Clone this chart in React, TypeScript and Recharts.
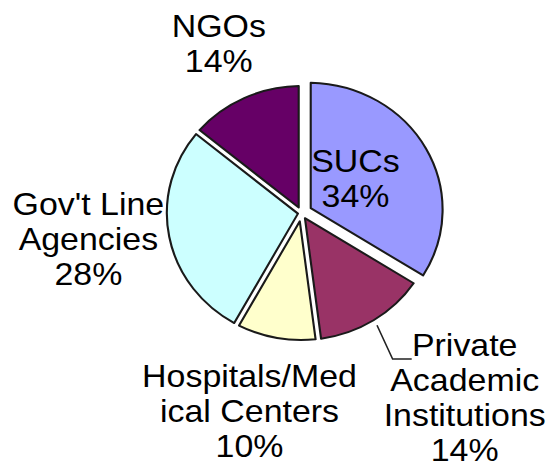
import React from "react"
import { PieChart, Pie, Cell } from "recharts"

const categories = ["SUCs", "Private Academic Institutions", "Hospitals/Medical Centers", "Gov't Line Agencies", "NGOs"]
const shares = [34, 14, 10, 28, 14]
const colors = ["#9999ff", "#993366", "#ffffcc", "#ccffff", "#660066"]
// how the category names are wrapped in the picture
const labelLines = [
  ["SUCs"],
  ["Private", "Academic", "Institutions"],
  ["Hospitals/Med", "ical Centers"],
  ["Gov't Line", "Agencies"],
  ["NGOs"],
]
const explode = [7, 0, 0, 0, 0]

// label anchors relative to the pie centre (first baseline)
const LABEL_OFFSETS = [
  { dx: 51, dy: -41 },
  { dx: 154, dy: 143 },
  { dx: -49, dy: 174 },
  { dx: -201, dy: 2 },
  { dx: -78, dy: -176 },
]
const LINE_H = 35
const GAP = 2.6 // half of the white gap between slices
const RAD = Math.PI / 180

const data = categories.map((name, i) => ({ name, value: shares[i] }))

const polar = (cx: number, cy: number, r: number, a: number) => [
  cx + r * Math.cos(-a * RAD),
  cy + r * Math.sin(-a * RAD),
]

// sector with its straight edges pulled in, so a white gap shows between slices
function GapSector(props: any) {
  const { cx, cy, midAngle, index, startAngle, endAngle, outerRadius, fill, stroke, strokeWidth } = props
  const d = explode[index] ?? 0
  const ox = cx + d * Math.cos(-midAngle * RAD)
  const oy = cy + d * Math.sin(-midAngle * RAD)
  const lo = Math.min(startAngle, endAngle)
  const hi = Math.max(startAngle, endAngle)
  const delta = Math.asin(GAP / outerRadius) / RAD
  const half = ((hi - lo) / 2) * RAD
  const vd = GAP / Math.sin(half)
  const [vx, vy] = polar(ox, oy, vd, (lo + hi) / 2)
  const [x1, y1] = polar(ox, oy, outerRadius, hi - delta)
  const [x2, y2] = polar(ox, oy, outerRadius, lo + delta)
  const large = hi - lo - 2 * delta > 180 ? 1 : 0
  const path = `M${vx},${vy} L${x1},${y1} A${outerRadius},${outerRadius} 0 ${large} 1 ${x2},${y2} Z`
  return <path d={path} fill={fill} stroke={stroke} strokeWidth={strokeWidth} strokeLinejoin="round" />
}

function renderLabel(props: any) {
  const { cx, cy, index, midAngle, outerRadius } = props
  const off = LABEL_OFFSETS[index]
  const x = cx + off.dx
  const y = cy + off.dy
  const lines = [...labelLines[index], `${shares[index]}%`]
  let leader = null
  if (index === 1) {
    const [sx, sy] = polar(cx, cy, outerRadius + 6, midAngle)
    leader = (
      <polyline
        points={`${sx},${sy} ${x - 68},${y + 3} ${x - 50},${y + 3}`}
        fill="none"
        stroke="#222"
        strokeWidth={1.5}
      />
    )
  }
  return (
    <g key={`lbl-${index}`}>
      {leader}
      <text
        x={x}
        y={y}
        textAnchor="middle"
        fontFamily="'Liberation Sans', Arial, sans-serif"
        fontSize={32}
        fill="#000"
      >
        {lines.map((l, i) => (
          <tspan key={i} x={x} y={y + i * LINE_H}>
            {l}
          </tspan>
        ))}
      </text>
    </g>
  )
}

export default function App() {
  return (
    <div style={{ position: "absolute", left: 0, top: 0, width: 552, height: 462, overflow: "hidden", background: "#fff" }}>
      <div style={{ width: 521, height: 462, transform: "scale(1.06, 1)", transformOrigin: "0 0" }}>
        <PieChart width={521} height={462} margin={{ top: 0, right: 0, bottom: 0, left: 0 }}>
          <Pie
            data={data}
            dataKey="value"
            nameKey="name"
            cx={284.4}
            cy={213}
            outerRadius={127}
            startAngle={90}
            endAngle={-270}
            stroke="#1a1a1a"
            strokeWidth={2}
            shape={GapSector}
            label={renderLabel}
            labelLine={false}
            isAnimationActive={false}
          >
            {data.map((d, i) => (
              <Cell key={d.name} fill={colors[i]} />
            ))}
          </Pie>
        </PieChart>
      </div>
    </div>
  )
}
